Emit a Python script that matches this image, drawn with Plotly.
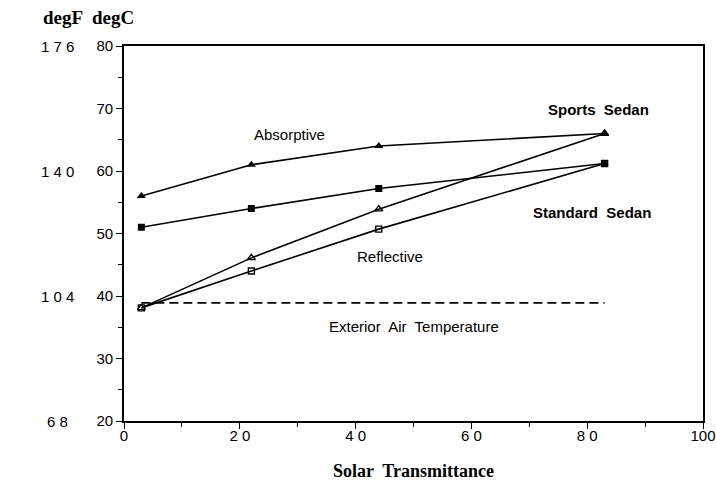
import plotly.graph_objects as go

transmittance = [3, 22, 44, 83]
sports_absorptive = [56, 61, 64, 66]
standard_absorptive = [51, 54, 57.2, 61.2]
sports_reflective = [38.1, 46.1, 53.9, 66]
standard_reflective = [38.1, 44.0, 50.7, 61.2]
exterior_x = [3, 83]
exterior_temp = [38.9, 38.9]

degC_ticks = [20, 30, 40, 50, 60, 70, 80]
degF_pos = [80, 60, 40, 20]
degF_labels = ["1 7 6", "1 4 0", "1 0 4", "6 8"]
x_ticks = [0, 20, 40, 60, 80, 100]
x_ticktext = ["0", "2 0", "4 0", "6 0", "8 0", "100"]

labels = [
    ("Absorptive", 28.5, 65.8, False),
    ("Sports  Sedan", 82.0, 69.8, True),
    ("Standard  Sedan", 80.8, 53.4, True),
    ("Reflective", 46.0, 46.3, False),
    ("Exterior  Air  Temperature", 50.0, 35.1, False),
]

fig = go.Figure()
line = dict(color="black", width=1.6)
fig.add_trace(go.Scatter(x=transmittance, y=sports_absorptive, mode="lines+markers",
                         line=line, marker=dict(symbol="triangle-up", size=8, color="black")))
fig.add_trace(go.Scatter(x=transmittance, y=standard_absorptive, mode="lines+markers",
                         line=line, marker=dict(symbol="square", size=7, color="black")))
fig.add_trace(go.Scatter(x=transmittance, y=sports_reflective, mode="lines+markers",
                         line=line, marker=dict(symbol="triangle-up-open", size=7, color="black",
                                                line=dict(width=1.4, color="black"))))
fig.add_trace(go.Scatter(x=transmittance, y=standard_reflective, mode="lines+markers",
                         line=line, marker=dict(symbol="square-open", size=6, color="black",
                                                line=dict(width=1.4, color="black"))))
fig.add_trace(go.Scatter(x=exterior_x, y=exterior_temp, mode="lines",
                         line=dict(color="black", width=1.6, dash="9px,5px")))

for text, x, y, bold in labels:
    fig.add_annotation(x=x, y=y, xref="x", yref="y", text=f"<b>{text}</b>" if bold else text,
                       showarrow=False, font=dict(family="Liberation Sans, Arial", size=15, color="black"))

for pos, lab in zip(degF_pos, degF_labels):
    fig.add_annotation(x=-0.115, y=pos, xref="paper", yref="y", text=lab, showarrow=False,
                       xanchor="center", yanchor="middle",
                       font=dict(family="Liberation Sans, Arial", size=15, color="black"))

fig.add_annotation(x=-0.062, y=1.0, xref="paper", yref="paper", yshift=29, text="<b>degF  degC</b>",
                   showarrow=False, xanchor="center", yanchor="middle",
                   font=dict(family="Liberation Serif, Times New Roman", size=19, color="black"))

fig.update_layout(
    width=716, height=485,
    margin=dict(l=124, r=13, t=46, b=64),
    paper_bgcolor="white", plot_bgcolor="white",
    showlegend=False,
    font=dict(family="Liberation Sans, Arial", size=15, color="black"),
    xaxis=dict(range=[0, 100], tickvals=x_ticks, ticktext=x_ticktext, ticks="outside", ticklen=6,
               tickwidth=1.4, tickcolor="black", showline=True, linecolor="black", linewidth=1.6,
               mirror=True, showgrid=False, zeroline=False, automargin=False,
               ticklabeloverflow="allow", ticklabelstandoff=-6,
               minor=dict(dtick=10, tick0=0, ticks="outside", ticklen=4, tickcolor="black", tickwidth=1.2),
               title=dict(text="<b>Solar  Transmittance</b>", standoff=22,
                          font=dict(family="Liberation Serif, Times New Roman", size=18, color="black"))),
    yaxis=dict(range=[20, 80], tickvals=degC_ticks, ticks="outside", ticklen=6, tickwidth=1.4,
               tickcolor="black", showline=True, linecolor="black", linewidth=1.6, mirror=True,
               showgrid=False, zeroline=False, automargin=False,
               minor=dict(dtick=5, tick0=0, ticks="outside", ticklen=4, tickcolor="black", tickwidth=1.2)),
)

fig.write_html("out.html", config={"displayModeBar": False},
               post_script="document.body.style.margin='0';document.body.style.overflow='hidden';")
